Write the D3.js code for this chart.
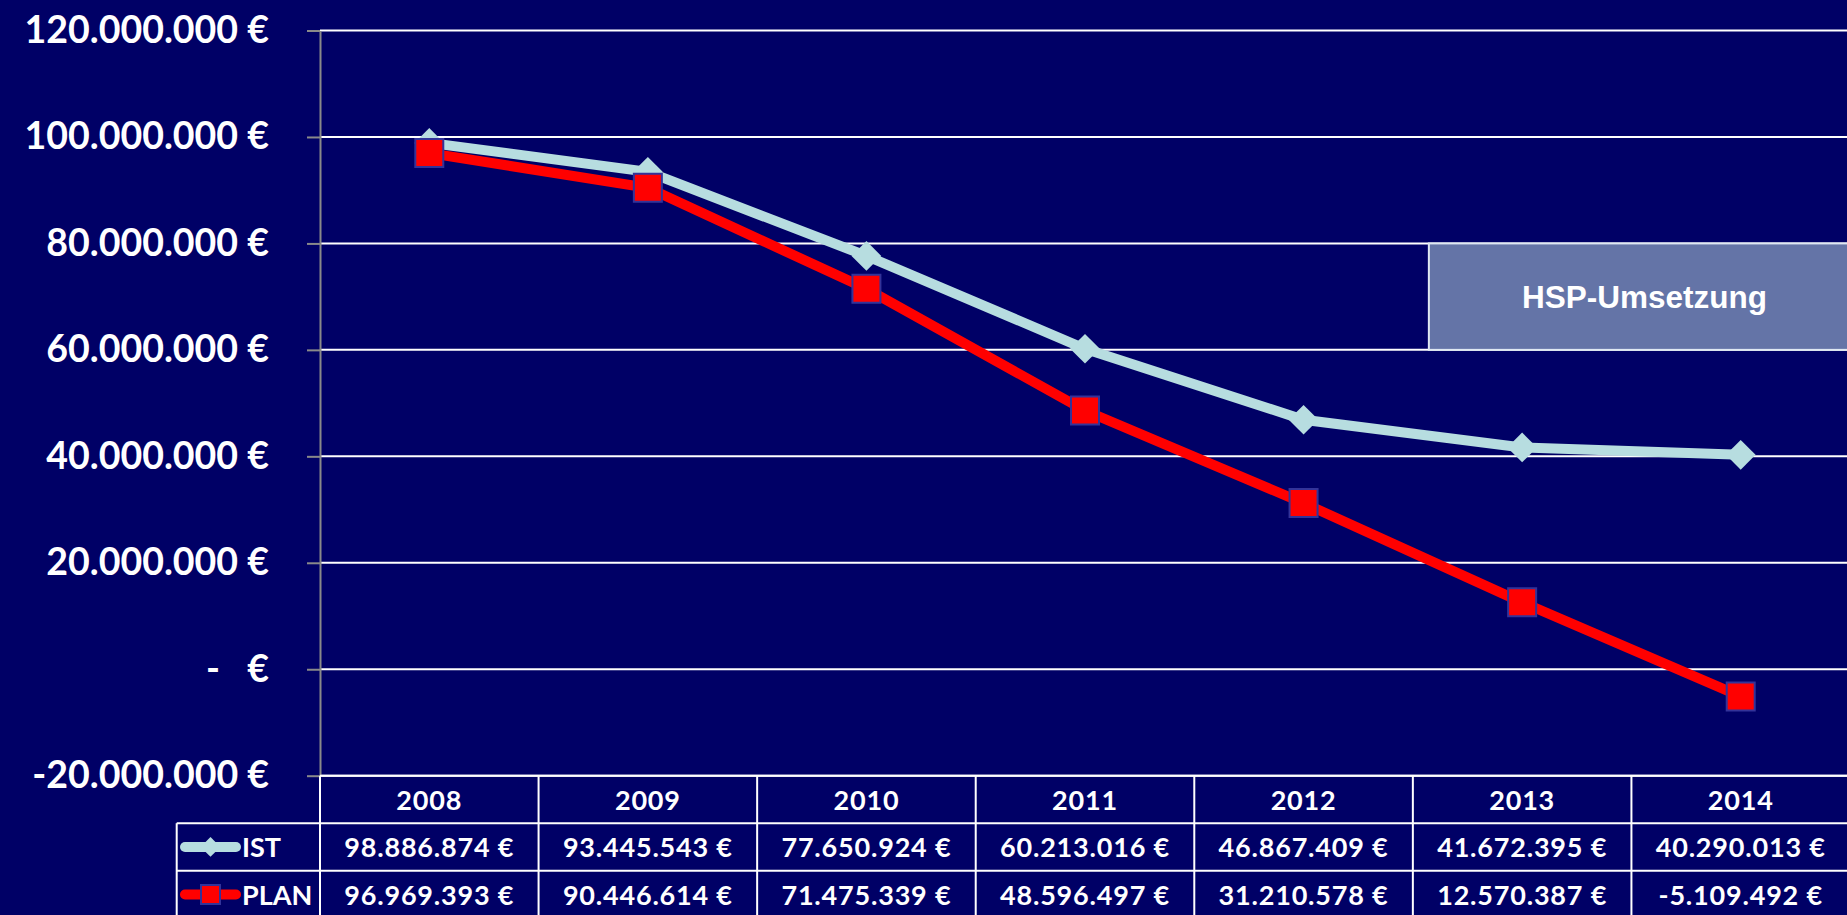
<!DOCTYPE html>
<html>

<head>
    <meta charset="UTF-8">
    <style>
        body { margin: 0; background: #000066; }
        svg { display: block; }
        .tick text { font-family: Lato, sans-serif; font-weight: bold; }
    </style>
    <title>IST / PLAN</title>
</head>

<body>
    <svg></svg>
    <script src="https://d3js.org/d3.v7.min.js"></script>
    <script>
        // data
        const years = ["2008", "2009", "2010", "2011", "2012", "2013", "2014"];
        const istValues = [98886874, 93445543, 77650924, 60213016, 46867409, 41672395, 40290013];
        const planValues = [96969393, 90446614, 71475339, 48596497, 31210578, 12570387, -5109492];
        const yTicks = [-20000000, 0, 20000000, 40000000, 60000000, 80000000, 100000000, 120000000];
        const seriesNames = ["IST", "PLAN"];
        const boxLabel = "HSP-Umsetzung";
        const boxRange = [60000000, 80000000];
        const boxFrom = "2013";

        let width = 1847, height = 915;
        let plotLeft = 320, plotRight = 1850, plotTop = 30.5, plotBottom = 775.7;
        let rowH = 47.5, legendLeft = 176.7;

        const de = d3.formatLocale({ decimal: ",", thousands: ".", grouping: [3], currency: ["", " €"], minus: "-" });
        const money = de.format(",.0f");

        let svg = d3.select("svg")
            .attr("width", width)
            .attr("height", height);

        svg.append("rect")
            .attr("width", width).attr("height", height)
            .attr("fill", "#000066");

        const x = d3.scaleBand().domain(years).range([plotLeft, plotRight]).padding(0);
        const y = d3.scaleLinear().domain([-20000000, 120000000]).range([plotBottom, plotTop]);
        const cx = d => x(d) + x.bandwidth() / 2;

        // gridlines
        svg.append("g")
            .selectAll("line")
            .data(yTicks)
            .enter()
            .append("line")
            .attr("x1", plotLeft).attr("x2", plotRight)
            .attr("y1", d => y(d)).attr("y2", d => y(d))
            .attr("stroke", "#ffffff")
            .attr("stroke-width", 2);

        // y axis
        let yAxis = svg.append("g")
            .attr("transform", "translate(" + plotLeft + ",0)")
            .call(d3.axisLeft(y)
                .tickValues(yTicks)
                .tickSize(13)
                .tickSizeOuter(0)
                .tickPadding(38)
                .tickFormat(d => d === 0 ? "-\u00a0\u00a0\u00a0€" : money(d) + " €"));
        yAxis.select(".domain").attr("stroke", "#8a8a8a").attr("stroke-width", 2);
        yAxis.selectAll(".tick line").attr("stroke", "#8a8a8a").attr("stroke-width", 2);
        yAxis.selectAll(".tick text")
            .attr("fill", "#ffffff")
            .style("font-size", "37.5px");

        // annotation box
        svg.append("rect")
            .attr("x", x(boxFrom) + 16)
            .attr("y", y(boxRange[1]))
            .attr("width", plotRight + 10 - x(boxFrom) - 16)
            .attr("height", y(boxRange[0]) - y(boxRange[1]))
            .attr("fill", "#6474a7")
            .attr("stroke", "#dfe8f2")
            .attr("stroke-width", 2);
        svg.append("text")
            .attr("x", (x(boxFrom) + 16 + plotRight + 10) / 2)
            .attr("y", (y(boxRange[0]) + y(boxRange[1])) / 2)
            .attr("text-anchor", "middle")
            .attr("dominant-baseline", "central")
            .attr("fill", "#ffffff")
            .style("font", "bold 31.5px 'Liberation Sans', Arial, sans-serif")
            .text(boxLabel);

        // series
        const line = d3.line().x((d, i) => cx(years[i])).y(d => y(d));
        const diamond = d3.symbol().type(d3.symbolSquare).size(21 * 21);
        const square = d3.symbol().type(d3.symbolSquare).size(28 * 28);

        svg.append("path")
            .datum(istValues)
            .attr("d", line)
            .attr("fill", "none")
            .attr("stroke", "#b7dde0")
            .attr("stroke-width", 10);
        svg.append("g")
            .selectAll("path")
            .data(istValues)
            .enter()
            .append("path")
            .attr("d", diamond)
            .attr("transform", (d, i) => "translate(" + cx(years[i]) + "," + y(d) + ") rotate(45)")
            .attr("fill", "#b7dde0");

        svg.append("path")
            .datum(planValues)
            .attr("d", line)
            .attr("fill", "none")
            .attr("stroke", "#ff0000")
            .attr("stroke-width", 10);
        svg.append("g")
            .selectAll("path")
            .data(planValues)
            .enter()
            .append("path")
            .attr("d", square)
            .attr("transform", (d, i) => "translate(" + cx(years[i]) + "," + y(d) + ")")
            .attr("fill", "#ff0000")
            .attr("stroke", "#333399")
            .attr("stroke-width", 2);

        // data table
        let table = svg.append("g");
        const tableFont = "bold 27px Lato, sans-serif";

        // horizontal rules
        table.append("line")
            .attr("x1", plotLeft).attr("x2", plotRight)
            .attr("y1", plotBottom).attr("y2", plotBottom);
        [1, 2, 3].forEach(r => {
            table.append("line")
                .attr("x1", legendLeft).attr("x2", plotRight)
                .attr("y1", plotBottom + r * rowH).attr("y2", plotBottom + r * rowH);
        });
        // vertical rules
        years.forEach(yr => {
            table.append("line")
                .attr("x1", x(yr)).attr("x2", x(yr))
                .attr("y1", plotBottom).attr("y2", height + 5);
        });
        table.append("line")
            .attr("x1", legendLeft).attr("x2", legendLeft)
            .attr("y1", plotBottom + rowH).attr("y2", height + 5);
        table.selectAll("line")
            .attr("stroke", "#ffffff")
            .attr("stroke-width", 2);

        // header row
        table.append("g")
            .selectAll("text")
            .data(years)
            .enter()
            .append("text")
            .attr("x", d => cx(d))
            .attr("y", plotBottom + rowH / 2)
            .text(d => d);

        // value rows
        [istValues, planValues].forEach((vals, r) => {
            table.append("g")
                .selectAll("text")
                .data(vals)
                .enter()
                .append("text")
                .attr("x", (d, i) => cx(years[i]))
                .attr("y", plotBottom + rowH * (r + 1.5))
                .text(d => money(d) + " €");
        });
        table.selectAll("text")
            .attr("text-anchor", "middle")
            .attr("dominant-baseline", "central")
            .attr("fill", "#ffffff")
            .style("font", tableFont)
            .style("letter-spacing", "0.8px");

        // legend keys inside the table
        const keyColors = ["#b7dde0", "#ff0000"];
        seriesNames.forEach((name, r) => {
            let ky = plotBottom + rowH * (r + 1.5);
            let g = svg.append("g");
            g.append("line")
                .attr("x1", 185).attr("x2", 236)
                .attr("y1", ky).attr("y2", ky)
                .attr("stroke", keyColors[r])
                .attr("stroke-width", 10)
                .attr("stroke-linecap", "round");
            if (r === 0) {
                g.append("path")
                    .attr("d", d3.symbol().type(d3.symbolSquare).size(14 * 14))
                    .attr("transform", "translate(210.5," + ky + ") rotate(45)")
                    .attr("fill", keyColors[r]);
            } else {
                g.append("path")
                    .attr("d", d3.symbol().type(d3.symbolSquare).size(19 * 19))
                    .attr("transform", "translate(210.5," + ky + ")")
                    .attr("fill", keyColors[r])
                    .attr("stroke", "#333399")
                    .attr("stroke-width", 2);
            }
            g.append("text")
                .attr("x", 242)
                .attr("y", ky)
                .attr("dominant-baseline", "central")
                .attr("fill", "#ffffff")
                .style("font", tableFont)
                .text(name);
        });
    </script>
</body>

</html>
